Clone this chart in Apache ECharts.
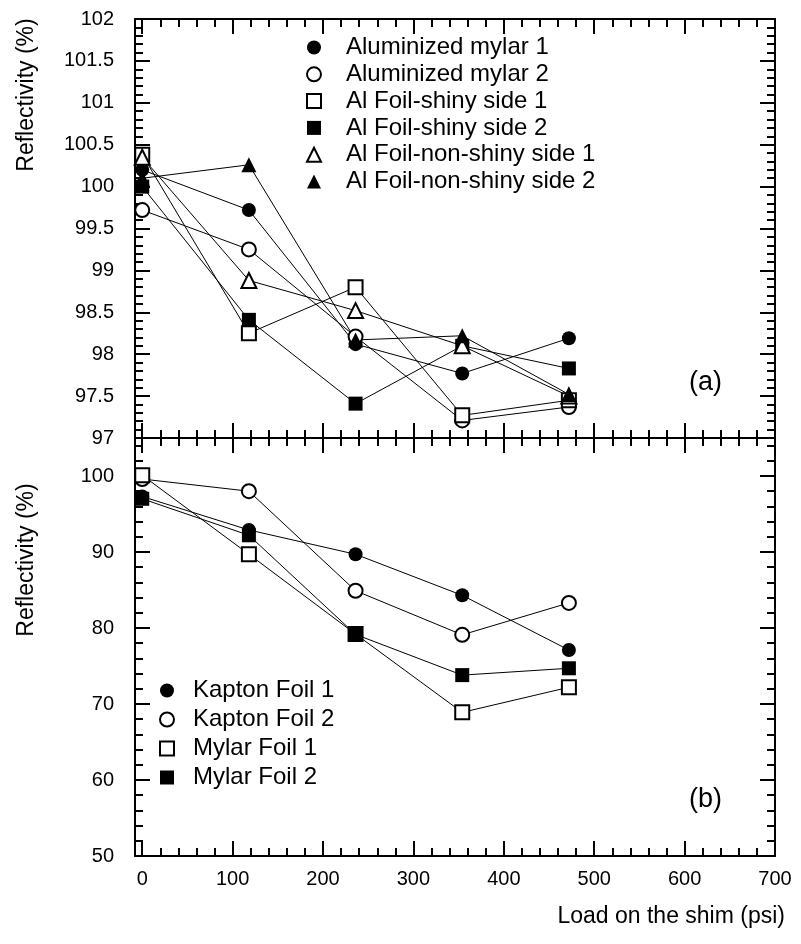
<!DOCTYPE html>
<html>
<head>
<meta charset="utf-8">
<script src="https://cdn.jsdelivr.net/npm/echarts@6/dist/echarts.min.js"></script>
<style>
html,body{margin:0;padding:0;background:#fff;}
#c{width:801px;height:944px;}
</style>
</head>
<body>
<div id="c"></div>
<script>
// ---- data ----
const loads = [0, 118, 236, 354, 472];

// panel (a)
const alMylar1 = [100.2, 99.72, 98.12, 97.77, 98.19];
const alMylar2 = [99.72, 99.25, 98.21, 97.21, 97.37];
const foilShiny1 = [100.38, 98.25, 98.80, 97.27, 97.45];
const foilShiny2 = [100.0, 98.41, 97.41, 98.10, 97.83];
const foilNonShiny1 = [100.35, 98.88, 98.52, 98.10, 97.50];
const foilNonShiny2 = [100.10, 100.26, 98.17, 98.22, 97.52];

// panel (b)
const kapton1 = [97.3, 92.9, 89.7, 84.3, 77.1];
const kapton2 = [99.6, 98.0, 84.9, 79.1, 83.3];
const mylar1 = [100.1, 89.7, 79.2, 68.9, 72.2];
const mylar2 = [97.0, 92.2, 79.15, 73.8, 74.7];

// ticks
const xMajor = [0, 100, 200, 300, 400, 500, 600, 700];
const xMinor = [20,40,60,80,120,140,160,180,220,240,260,280,320,340,360,380,420,440,460,480,520,540,560,580,620,640,660,680];
const yTopMajor = [97, 97.5, 98, 98.5, 99, 99.5, 100, 100.5, 101, 101.5, 102];
const yTopMinor = [];
for (let i = 0; i <= 50; i++) { if (i % 5 !== 0) yTopMinor.push(+(97 + i * 0.1).toFixed(1)); }
const yBotMajor = [50, 60, 70, 80, 90, 100];
const yBotMinor = [52,54,56,58,62,64,66,68,72,74,76,78,82,84,86,88,92,94,96,98,102,104];

// ---- layout ----
const FONT = 'Liberation Sans, Arial, sans-serif';
const L = 135, W = 640;
const grids = [
  {left: L, top: 19, width: W, height: 419},
  {left: L, top: 438, width: W, height: 418}
];
const XMIN = -8, XMAX = 700;
const yRanges = [[97, 102], [50, 105]];

function tickAxis(gridIndex, position, min, max, values, len, showLine, labels) {
  return {
    type: 'value', gridIndex, position, min, max, offset: 0,
    axisLine: {show: showLine, onZero: false, lineStyle: {color: '#000', width: 2}},
    axisTick: {show: true, inside: true, length: len, customValues: values, lineStyle: {color: '#000', width: 2}},
    axisLabel: labels ? labels : {show: false, customValues: values},
    splitLine: {show: false},
    minorTick: {show: false}
  };
}

const xAxes = [];
const yAxes = [];
for (let g = 0; g < 2; g++) {
  const [ymin, ymax] = yRanges[g];
  const yMaj = g === 0 ? yTopMajor : yBotMajor;
  const yMin = g === 0 ? yTopMinor : yBotMinor;
  const xLabels = g === 1
    ? {show: true, customValues: xMajor, fontSize: 20, color: '#000', fontFamily: FONT, margin: 13}
    : null;
  xAxes.push(tickAxis(g, 'bottom', XMIN, XMAX, xMajor, 15, true, xLabels)); // data axis
  xAxes.push(tickAxis(g, 'bottom', XMIN, XMAX, xMinor, 8, false, null));
  xAxes.push(tickAxis(g, 'top', XMIN, XMAX, xMajor, 15, true, null));
  xAxes.push(tickAxis(g, 'top', XMIN, XMAX, xMinor, 8, false, null));
  const yLabels = {show: true, customValues: yMaj, fontSize: 20, color: '#000', fontFamily: FONT, margin: 21};
  yAxes.push(tickAxis(g, 'left', ymin, ymax, yMaj, 15, true, yLabels)); // data axis
  yAxes.push(tickAxis(g, 'left', ymin, ymax, yMin, 8, false, null));
  yAxes.push(tickAxis(g, 'right', ymin, ymax, yMaj, 15, true, null));
  yAxes.push(tickAxis(g, 'right', ymin, ymax, yMin, 8, false, null));
}

function mkSeries(name, vals, symbol, filled, g) {
  return {
    name, type: 'line', xAxisIndex: g * 4, yAxisIndex: g * 4,
    data: loads.map((x, i) => [x, vals[i]]),
    symbol, symbolSize: symbol === 'triangle' ? 15 : 14,
    showAllSymbol: true,
    lineStyle: {color: '#000', width: 1},
    itemStyle: {color: filled ? '#000' : '#fff', borderColor: '#000', borderWidth: filled ? 0 : 2},
    emphasis: {disabled: true},
    animation: false
  };
}

const series = [
  mkSeries('Aluminized mylar 1', alMylar1, 'circle', true, 0),
  mkSeries('Aluminized mylar 2', alMylar2, 'circle', false, 0),
  mkSeries('Al Foil-shiny side 1', foilShiny1, 'rect', false, 0),
  mkSeries('Al Foil-shiny side 2', foilShiny2, 'rect', true, 0),
  mkSeries('Al Foil-non-shiny side 1', foilNonShiny1, 'triangle', false, 0),
  mkSeries('Al Foil-non-shiny side 2', foilNonShiny2, 'triangle', true, 0),
  mkSeries('Kapton Foil 1', kapton1, 'circle', true, 1),
  mkSeries('Kapton Foil 2', kapton2, 'circle', false, 1),
  mkSeries('Mylar Foil 1', mylar1, 'rect', false, 1),
  mkSeries('Mylar Foil 2', mylar2, 'rect', true, 1)
];

const legendTop = {
  orient: 'vertical', left: 301, top: 30, itemWidth: 14, itemHeight: 14, itemGap: 1.8,
  textStyle: {fontSize: 24, color: '#000', fontFamily: FONT, lineHeight: 25, padding: [0, 0, 0, 20]},
  data: series.slice(0, 6).map(s => ({name: s.name, icon: s.symbol})),
  selectedMode: false
};
const legendBot = {
  orient: 'vertical', left: 154, top: 673, itemWidth: 14, itemHeight: 14, itemGap: 4,
  textStyle: {fontSize: 24, color: '#000', fontFamily: FONT, lineHeight: 25, padding: [0, 0, 0, 14]},
  data: series.slice(6).map(s => ({name: s.name, icon: s.symbol})),
  selectedMode: false
};

const chart = echarts.init(document.getElementById('c'), null, {renderer: 'canvas'});
chart.setOption({
  animation: false,
  backgroundColor: '#fff',
  grid: grids,
  xAxis: xAxes,
  yAxis: yAxes,
  legend: [legendTop, legendBot],
  series,
  graphic: [
    {type: 'text', left: 689, top: 369, style: {text: '(a)', fontSize: 27, fill: '#000', fontFamily: FONT}},
    {type: 'text', left: 689, top: 786, style: {text: '(b)', fontSize: 27, fill: '#000', fontFamily: FONT}},
    {type: 'text', right: 16, top: 905, style: {text: 'Load on the shim (psi)', fontSize: 23, fill: '#000', fontFamily: FONT}},
    {type: 'text', x: 27, y: 95, rotation: Math.PI / 2, style: {text: 'Reflectivity (%)', fontSize: 23, fill: '#000', fontFamily: FONT, align: 'center', verticalAlign: 'middle'}},
    {type: 'text', x: 27, y: 560, rotation: Math.PI / 2, style: {text: 'Reflectivity (%)', fontSize: 23, fill: '#000', fontFamily: FONT, align: 'center', verticalAlign: 'middle'}}
  ]
});
</script>
</body>
</html>
